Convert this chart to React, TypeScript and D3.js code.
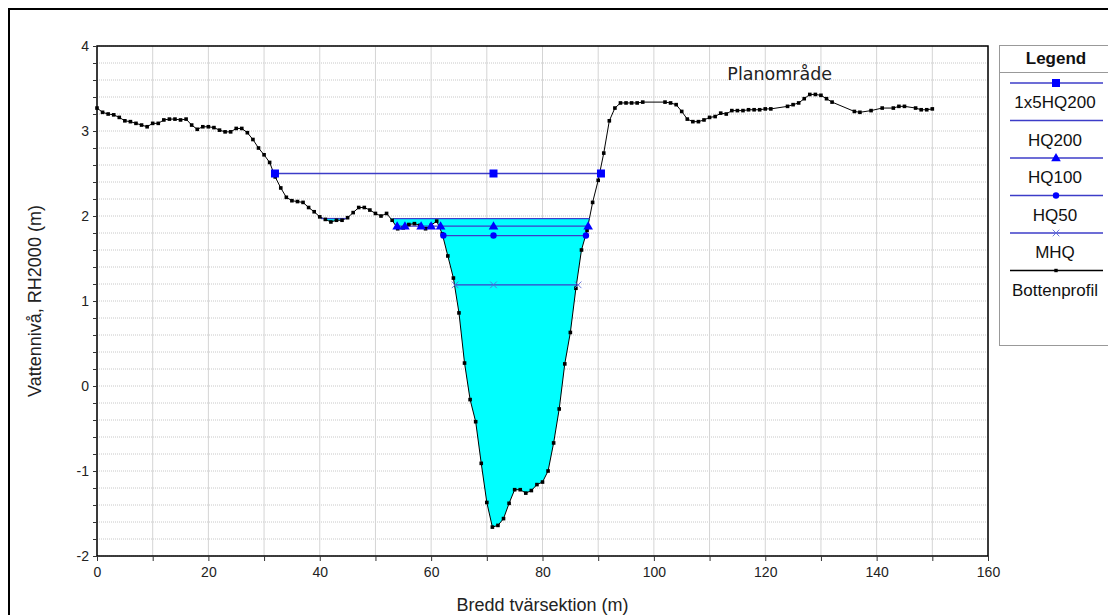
import React, { useRef, useEffect } from "react";
import * as d3 from "d3";

// Bottenprofil (x = bredd i m, y = nivå i m RH2000)
const profileX = [
  0, 1, 2, 3, 4, 5, 6, 7, 8, 9, 10, 11, 12, 13, 14, 15, 16, 17, 18, 19, 20,
  21, 22, 23, 24, 25, 26, 27, 28, 29, 30, 31, 32, 33, 34, 35, 36, 37, 38, 39, 40,
  41, 42, 43, 44, 45, 46, 47, 48, 49, 50, 51, 52, 53, 54, 55, 56, 57, 58, 59, 60,
  61, 62, 63, 64, 65, 66, 67, 68, 69, 70, 71, 72, 73, 74, 75, 76, 77, 78, 79, 80,
  81, 82, 83, 84, 85, 86, 87, 88, 89, 90, 91, 92, 93, 94, 95, 96, 97, 98, 102,
  103, 104, 105, 106, 107, 108, 109, 110, 111, 112, 113, 114, 115, 116, 117, 118, 119, 120,
  121, 124, 125, 126, 127, 128, 129, 130, 131, 132, 136, 137, 139, 141, 143, 144, 145,
  147, 148, 149, 150,
];
const profileY = [
  3.27, 3.22, 3.2, 3.19, 3.16, 3.12, 3.11, 3.09, 3.07, 3.05, 3.09, 3.09, 3.13, 3.14, 3.14, 3.13, 3.14, 3.07, 3.02, 3.05, 3.05,
  3.04, 3.01, 2.99, 2.99, 3.03, 3.03, 2.98, 2.9, 2.8, 2.72, 2.63, 2.46, 2.33, 2.22, 2.18, 2.17, 2.16, 2.1, 2.05, 1.99,
  1.96, 1.93, 1.95, 1.95, 1.98, 2.04, 2.1, 2.1, 2.07, 2.03, 2.0, 2.03, 1.95, 1.85, 1.86, 1.9, 1.91, 1.89, 1.85, 1.89,
  1.94, 1.79, 1.53, 1.27, 0.86, 0.27, -0.16, -0.42, -0.91, -1.37, -1.66, -1.64, -1.56, -1.38, -1.22, -1.22, -1.26, -1.23, -1.16, -1.13,
  -1.0, -0.67, -0.27, 0.26, 0.63, 1.15, 1.6, 1.83, 2.16, 2.42, 2.74, 3.12, 3.27, 3.33, 3.33, 3.33, 3.33, 3.34, 3.34,
  3.33, 3.31, 3.23, 3.14, 3.11, 3.11, 3.13, 3.16, 3.17, 3.21, 3.2, 3.24, 3.24, 3.24, 3.25, 3.25, 3.25, 3.26,
  3.26, 3.29, 3.31, 3.33, 3.38, 3.43, 3.43, 3.42, 3.38, 3.34, 3.23, 3.22, 3.24, 3.27, 3.27, 3.29, 3.29,
  3.27, 3.25, 3.25, 3.26,
];

// Vattennivåer
const level1x5HQ200 = 2.5;
const levelHQ200 = 1.97;
const levelHQ100 = 1.88;
const levelHQ50 = 1.77;
const levelMHQ = 1.19;

const x1x5HQ200 = [31.96, 71.2, 90.5];
const segHQ200 = [[40.2, 44.8], [53.2, 88.5]];
const xHQ100 = [53.9, 55.3, 58.2, 60.0, 61.7, 71.2, 88.2];
const xHQ50 = [62.2, 71.2, 87.8];
const xMHQ = [64.3, 71.2, 86.4];

const legendLabels = ["1x5HQ200", "HQ200", "HQ100", "HQ50", "MHQ", "Bottenprofil"];
const legendMarkers = ["square", "none", "triangle", "circle", "x", "dot"];

const xTicks = d3.range(0, 161, 10);
const yTicks = d3.range(0, 31).map((i) => +(-2 + i * 0.2).toFixed(1));

export default function App() {
  const svgRef = useRef<SVGSVGElement>(null);

  useEffect(() => {
    const width = 1108;
    const height = 615;
    const margin = { top: 46, right: 120, bottom: 59, left: 97 };
    const font = "'Liberation Sans', Arial, sans-serif";
    const waterColor = "#3c3cc8";
    const markerColor = "#0000ff";

    const svg = d3.select(svgRef.current);
    svg.selectAll("*").remove();

    const x = d3.scaleLinear().domain([0, 160]).range([margin.left, width - margin.right]);
    const y = d3.scaleLinear().domain([-2, 4]).range([height - margin.bottom, margin.top]);

    // outer frame
    svg.append("rect")
      .attr("x", 9).attr("y", 9)
      .attr("width", 1120).attr("height", 630)
      .attr("fill", "none").attr("stroke", "#000").attr("stroke-width", 2);

    // grid
    svg.append("g").selectAll("line").data(yTicks).enter().append("line")
      .attr("x1", x(0)).attr("x2", x(160))
      .attr("y1", (d) => y(d)).attr("y2", (d) => y(d))
      .attr("stroke", "#c8c8c8").attr("stroke-dasharray", "1,1");
    svg.append("g").selectAll("line").data(xTicks).enter().append("line")
      .attr("x1", (d) => x(d)).attr("x2", (d) => x(d))
      .attr("y1", y(-2)).attr("y2", y(4))
      .attr("stroke", "#d4d4d4");

    // HQ200 fill: rect below the level, clipped to the region above the profile
    const idx = profileX.map((_, i) => i);
    const defs = svg.append("defs");
    const aboveProfile = d3.area<number>()
      .x((i) => x(profileX[i]))
      .y0((i) => y(profileY[i]))
      .y1(y(4));
    defs.append("clipPath").attr("id", "above-profile")
      .append("path")
      .attr("d", aboveProfile(idx));
    svg.append("rect")
      .attr("x", x(segHQ200[0][0]) - 2).attr("y", y(levelHQ200))
      .attr("width", x(segHQ200[1][1]) - x(segHQ200[0][0]) + 4)
      .attr("height", y(-2) - y(levelHQ200))
      .attr("fill", "#00ffff")
      .attr("clip-path", "url(#above-profile)");

    // profile line
    const line = d3.line<number>()
      .x((i) => x(profileX[i]))
      .y((i) => y(profileY[i]));
    svg.append("path")
      .attr("d", line(idx))
      .attr("fill", "none").attr("stroke", "#000").attr("stroke-width", 1);

    // water levels
    const hline = (x1: number, x2: number, lv: number) =>
      svg.append("line")
        .attr("x1", x(x1)).attr("x2", x(x2))
        .attr("y1", y(lv)).attr("y2", y(lv))
        .attr("stroke", waterColor).attr("stroke-width", 1.3);

    hline(x1x5HQ200[0], x1x5HQ200[x1x5HQ200.length - 1], level1x5HQ200);
    segHQ200.forEach((s) => hline(s[0], s[1], levelHQ200));
    hline(xHQ100[0], xHQ100[xHQ100.length - 1], levelHQ100);
    hline(xHQ50[0], xHQ50[xHQ50.length - 1], levelHQ50);
    hline(xMHQ[0], xMHQ[xMHQ.length - 1], levelMHQ);

    // profile markers
    svg.append("g").selectAll("rect").data(idx).enter().append("rect")
      .attr("x", (i) => x(profileX[i]) - 1.8)
      .attr("y", (i) => y(profileY[i]) - 1.8)
      .attr("width", 3.6).attr("height", 3.6)
      .attr("fill", "#000");

    const drawMarker = (g: any, kind: string, cx: number, cy: number) => {
      if (kind === "square") {
        g.append("rect").attr("x", cx - 4).attr("y", cy - 4).attr("width", 8).attr("height", 8).attr("fill", markerColor);
      } else if (kind === "triangle") {
        g.append("path").attr("d", d3.symbol(d3.symbolTriangle, 40)()).attr("transform", `translate(${cx},${cy + 0.5})`).attr("fill", markerColor);
      } else if (kind === "circle") {
        g.append("circle").attr("cx", cx).attr("cy", cy).attr("r", 3.2).attr("fill", markerColor);
      } else if (kind === "x") {
        g.append("path").attr("d", d3.symbol(d3.symbolX, 30)()).attr("transform", `translate(${cx},${cy})`)
          .attr("fill", "none").attr("stroke", "#5a6ad8").attr("stroke-width", 0.9);
      } else if (kind === "dot") {
        g.append("rect").attr("x", cx - 1.7).attr("y", cy - 1.7).attr("width", 3.4).attr("height", 3.4).attr("fill", "#000");
      }
    };

    const mk = svg.append("g");
    x1x5HQ200.forEach((v) => drawMarker(mk, "square", x(v), y(level1x5HQ200)));
    xHQ100.forEach((v) => drawMarker(mk, "triangle", x(v), y(levelHQ100)));
    xHQ50.forEach((v) => drawMarker(mk, "circle", x(v), y(levelHQ50)));
    xMHQ.forEach((v) => drawMarker(mk, "x", x(v), y(levelMHQ)));

    // plot frame
    svg.append("rect")
      .attr("x", x(0)).attr("y", y(4))
      .attr("width", x(160) - x(0)).attr("height", y(-2) - y(4))
      .attr("fill", "none").attr("stroke", "#000").attr("stroke-width", 1.5);

    // axes
    const xAxis = svg.append("g")
      .attr("transform", `translate(0, ${y(-2)})`)
      .call(d3.axisBottom(x).tickValues(xTicks).tickSize(5).tickPadding(6)
        .tickFormat((d: any) => (d % 20 === 0 ? String(d) : "")));
    const yAxis = svg.append("g")
      .attr("transform", `translate(${x(0)}, 0)`)
      .call(d3.axisLeft(y).tickValues(yTicks).tickSize(4).tickPadding(4)
        .tickFormat((d: any) => (Math.abs(d - Math.round(d)) < 1e-6 ? String(Math.round(d)) : "")));
    [xAxis, yAxis].forEach((a) => {
      a.select(".domain").remove();
      a.selectAll("line").attr("stroke", "#333");
      a.selectAll("text").attr("font-family", font).attr("font-size", 14).attr("fill", "#222");
    });

    // axis titles
    svg.append("text")
      .attr("x", (x(0) + x(160)) / 2).attr("y", 611)
      .attr("text-anchor", "middle")
      .attr("font-family", font).attr("font-size", 18).attr("fill", "#222")
      .text("Bredd tvärsektion (m)");
    svg.append("text")
      .attr("transform", `translate(41, ${(y(4) + y(-2)) / 2}) rotate(-90)`)
      .attr("text-anchor", "middle")
      .attr("font-family", font).attr("font-size", 18).attr("fill", "#222")
      .text("Vattennivå, RH2000 (m)");

    // annotation
    svg.append("text")
      .attr("x", x(122.6)).attr("y", y(3.6))
      .attr("text-anchor", "middle")
      .attr("font-family", "'DejaVu Sans', Verdana, sans-serif").attr("font-size", 17.5).attr("fill", "#222")
      .text("Planområde");

    // legend
    const lg = svg.append("g");
    lg.append("rect")
      .attr("x", 999.5).attr("y", 45.5).attr("width", 130).attr("height", 300)
      .attr("fill", "#fff").attr("stroke", "#999");
    lg.append("line")
      .attr("x1", 999.5).attr("x2", 1130).attr("y1", 72.5).attr("y2", 72.5)
      .attr("stroke", "#999");
    lg.append("text")
      .attr("x", 1056).attr("y", 64)
      .attr("text-anchor", "middle")
      .attr("font-family", font).attr("font-size", 17).attr("font-weight", "bold").attr("fill", "#111")
      .text("Legend");
    legendLabels.forEach((label, i) => {
      const ly = 83 + i * 37.5;
      const isProfile = legendMarkers[i] === "dot";
      lg.append("line")
        .attr("x1", 1010).attr("x2", 1103).attr("y1", ly).attr("y2", ly)
        .attr("stroke", isProfile ? "#000" : waterColor).attr("stroke-width", 1.3);
      drawMarker(lg, legendMarkers[i], 1056, ly);
      lg.append("text")
        .attr("x", 1055).attr("y", ly + 25)
        .attr("text-anchor", "middle")
        .attr("font-family", font).attr("font-size", 17).attr("fill", "#111")
        .text(label);
    });
  }, []);

  return (
    <svg
      ref={svgRef}
      width={1108}
      height={615}
      style={{ position: "absolute", left: 0, top: 0, background: "#fff" }}
    />
  );
}
